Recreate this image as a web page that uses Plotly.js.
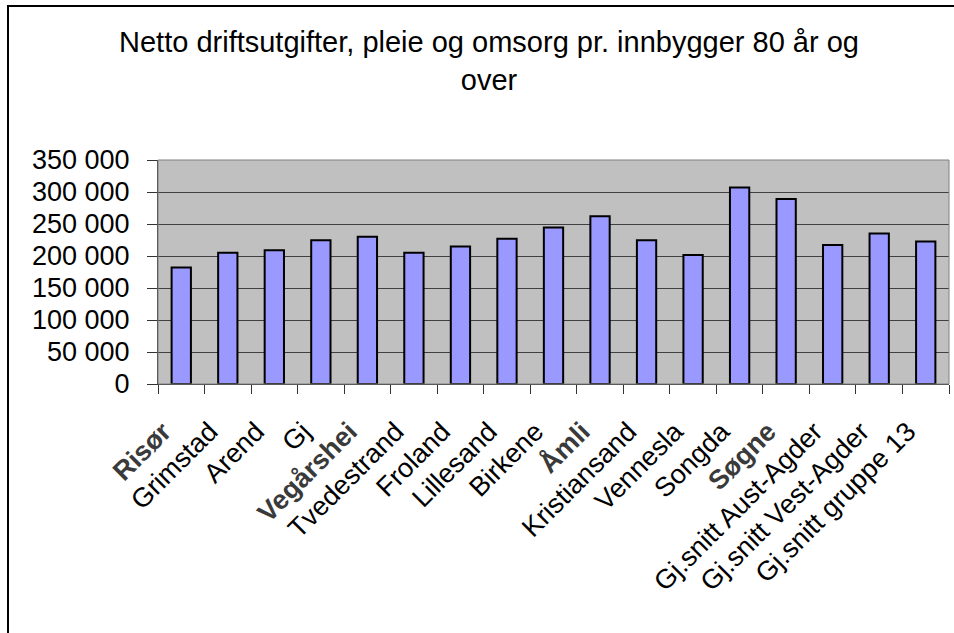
<!DOCTYPE html>
<html>
<head>
<meta charset="utf-8">
<script src="https://cdn.plot.ly/plotly-3.0.1.min.js"></script>
<style>
html,body{margin:0;padding:0;background:#fff;}
#chart{position:absolute;left:0;top:0;width:954px;height:633px;}
#frame{position:absolute;left:7px;top:5px;width:960px;height:640px;border-left:2px solid #000;border-top:2px solid #000;pointer-events:none;}
</style>
</head>
<body>
<div id="chart"></div>
<div id="frame"></div>
<script>
const categories = ["Risør","Grimstad","Arend","Gj","Vegårshei","Tvedestrand","Froland","Lillesand","Birkene","Åmli","Kristiansand","Vennesla","Songda","Søgne","Gj.snitt Aust-Agder","Gj.snitt Vest-Agder","Gj.snitt gruppe 13"];
const values = [182000,205000,209000,224500,230000,205000,215000,227000,244500,262000,224500,201500,307000,289000,217000,235000,222500];
const highlighted = ["Risør","Vegårshei","Åmli","Søgne"];
const tickLabels = categories.map(c => highlighted.includes(c) ? "<b><span style='color:#3a3a3a'>" + c + "</span></b>" : c);
const titleText = "Netto driftsutgifter, pleie og omsorg pr. innbygger 80 år og<br>over";

const trace = {
  type: "bar",
  x: categories,
  y: values,
  marker: {color: "#9999FF", line: {color: "#000000", width: 2}},
  hoverinfo: "x+y"
};

const layout = {
  width: 954, height: 633,
  margin: {l: 158, r: 5, t: 160, b: 249},
  paper_bgcolor: "#ffffff",
  plot_bgcolor: "#C0C0C0",
  separators: ", ",
  bargap: 0.585,
  showlegend: false,
  font: {family: "Liberation Sans, Arial, sans-serif", color: "#000", size: 27},
  title: {
    text: titleText,
    font: {size: 29, family: "Liberation Sans, Arial, sans-serif", color: "#000"},
    x: 489/954, xref: "container", xanchor: "center",
    y: 1 - 52/633, yref: "container", yanchor: "top"
  },
  xaxis: {
    type: "category",
    tickmode: "array",
    tickvals: categories,
    ticktext: tickLabels,
    tickangle: -45,
    tickson: "boundaries",
    ticks: "outside", ticklen: 9, tickcolor: "#333", tickwidth: 1,
    ticklabelshift: -18,
    ticklabelstandoff: 20,
    showline: true, linecolor: "#333", linewidth: 1,
    showgrid: false,
    tickfont: {size: 27, color: "#000"},
    automargin: false
  },
  yaxis: {
    range: [0, 350000],
    dtick: 50000, tick0: 0,
    tickformat: ",d",
    ticks: "outside", ticklen: 10, tickcolor: "#333", tickwidth: 1,
    ticklabelstandoff: 12,
    showline: true, linecolor: "#333", linewidth: 1,
    showgrid: true, gridcolor: "#404040", gridwidth: 1,
    zeroline: false,
    tickfont: {size: 27, color: "#000"},
    automargin: false
  },
  shapes: [{
    type: "rect", xref: "paper", yref: "paper", x0: 0, x1: 1, y0: 0, y1: 1,
    line: {color: "#808080", width: 1}, fillcolor: "rgba(0,0,0,0)", layer: "above"
  }]
};

Plotly.newPlot("chart", [trace], layout, {staticPlot: true});
</script>
</body>
</html>
